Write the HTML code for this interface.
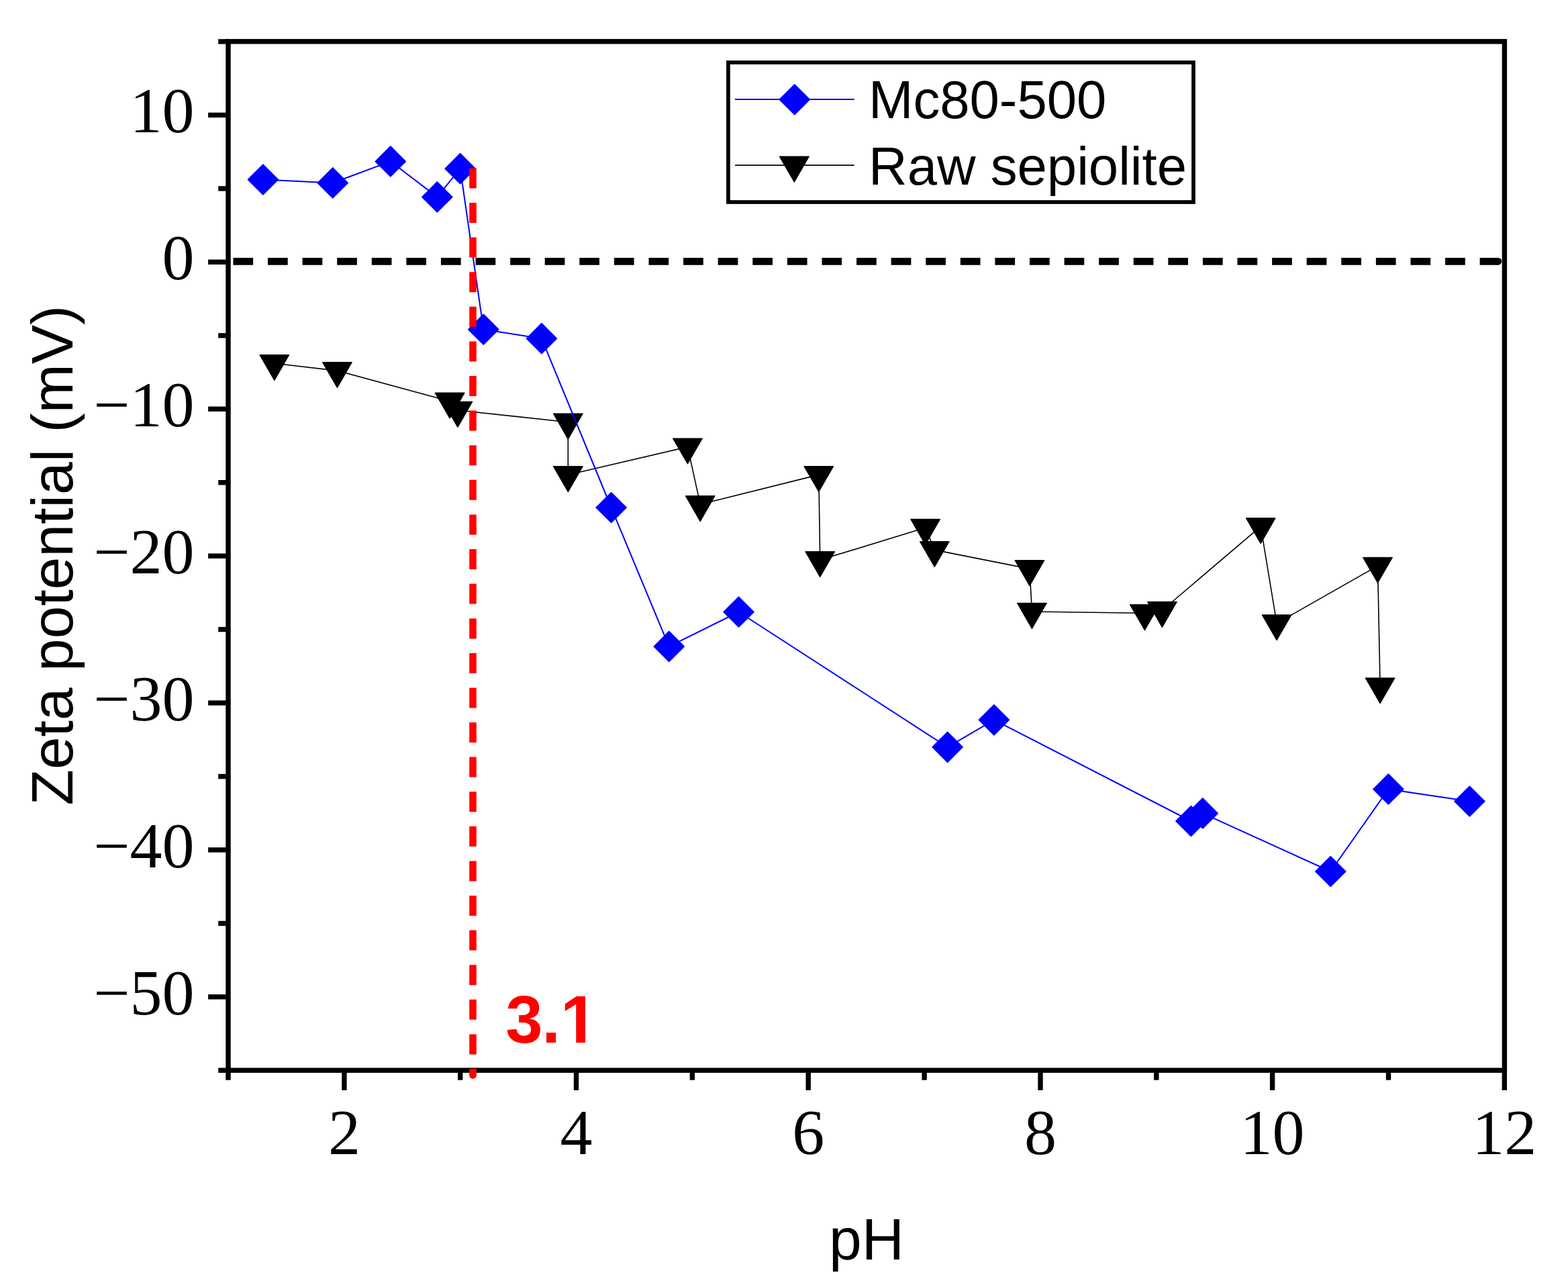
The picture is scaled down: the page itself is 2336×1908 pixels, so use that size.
<!DOCTYPE html><html><head><meta charset="utf-8"><title>Zeta potential vs pH</title><style>html,body{margin:0;padding:0;background:#fff;overflow:hidden}svg{display:block}</style></head><body>
<svg width="2336" height="1908" viewBox="0 0 2336 1908">
<rect width="2336" height="1908" fill="#fff"/>
<g stroke="#000" stroke-width="10.6" fill="none">
<line x1="347.4" y1="389.35" x2="2232" y2="389.35" stroke-dasharray="29.7 21.89"/>
</g><circle cx="2232" cy="389.35" r="5.3" fill="#000"/>
<polyline fill="none" stroke="#000" stroke-width="1.6" stroke-linejoin="round" points="408.8,541.2 502.4,552.1 670.1,597.8 681.9,611.0 846.3,628.7 846.3,707.3 1024.4,665.6 1043.2,751.2 1219.8,707.1 1221.7,834.1 1378.6,786.0 1392.3,819.1 1533.9,847.2 1537.4,911.0 1705.4,913.3 1731.4,909.0 1878.2,784.2 1902.1,928.4 2052.5,842.9 2056.1,1022.4"/>
<g fill="#000" stroke="#000" stroke-width="1.4" stroke-linejoin="round"><polygon points="387.1,528.7 430.5,528.7 408.8,566.3"/><polygon points="480.7,539.6 524.1,539.6 502.4,577.2"/><polygon points="648.4,585.3 691.8,585.3 670.1,622.9"/><polygon points="660.2,598.5 703.6,598.5 681.9,636.1"/><polygon points="824.6,616.2 868.0,616.2 846.3,653.8"/><polygon points="824.6,694.8 868.0,694.8 846.3,732.4"/><polygon points="1002.7,653.1 1046.1,653.1 1024.4,690.7"/><polygon points="1021.5,738.7 1064.9,738.7 1043.2,776.3"/><polygon points="1198.1,694.6 1241.5,694.6 1219.8,732.2"/><polygon points="1200.0,821.6 1243.4,821.6 1221.7,859.2"/><polygon points="1356.9,773.5 1400.3,773.5 1378.6,811.1"/><polygon points="1370.6,806.6 1414.0,806.6 1392.3,844.2"/><polygon points="1512.2,834.7 1555.6,834.7 1533.9,872.3"/><polygon points="1515.7,898.5 1559.1,898.5 1537.4,936.1"/><polygon points="1683.7,900.8 1727.1,900.8 1705.4,938.4"/><polygon points="1709.7,896.5 1753.1,896.5 1731.4,934.1"/><polygon points="1856.5,771.7 1899.9,771.7 1878.2,809.3"/><polygon points="1880.4,915.9 1923.8,915.9 1902.1,953.5"/><polygon points="2030.8,830.4 2074.2,830.4 2052.5,868.0"/><polygon points="2034.4,1009.9 2077.8,1009.9 2056.1,1047.5"/></g>
<polyline fill="none" stroke="#00f" stroke-width="2" stroke-linejoin="round" points="391.9,267.5 495.7,272.4 581.8,240.4 651.3,293.4 685.6,251.2 720.3,490.7 806.9,504.2 910.6,756.0 996.7,962.9 1100.5,911.5 1411.6,1112.8 1480.9,1072.3 1774.4,1223.0 1791.8,1211.4 1982.3,1298.0 2068.4,1175.4 2189.4,1193.5"/>
<g fill="#00f" stroke="#00f" stroke-width="1.4" stroke-linejoin="round"><polygon points="391.9,244.9 414.5,267.5 391.9,290.1 369.3,267.5"/><polygon points="495.7,249.8 518.3,272.4 495.7,295.0 473.1,272.4"/><polygon points="581.8,217.8 604.4,240.4 581.8,263.0 559.2,240.4"/><polygon points="651.3,270.8 673.9,293.4 651.3,316.0 628.7,293.4"/><polygon points="685.6,228.6 708.2,251.2 685.6,273.8 663.0,251.2"/><polygon points="720.3,468.1 742.9,490.7 720.3,513.3 697.7,490.7"/><polygon points="806.9,481.6 829.5,504.2 806.9,526.8 784.3,504.2"/><polygon points="910.6,733.4 933.2,756.0 910.6,778.6 888.0,756.0"/><polygon points="996.7,940.3 1019.3,962.9 996.7,985.5 974.1,962.9"/><polygon points="1100.5,888.9 1123.1,911.5 1100.5,934.1 1077.9,911.5"/><polygon points="1411.6,1090.2 1434.2,1112.8 1411.6,1135.4 1389.0,1112.8"/><polygon points="1480.9,1049.7 1503.5,1072.3 1480.9,1094.9 1458.3,1072.3"/><polygon points="1774.4,1200.4 1797.0,1223.0 1774.4,1245.6 1751.8,1223.0"/><polygon points="1791.8,1188.8 1814.4,1211.4 1791.8,1234.0 1769.2,1211.4"/><polygon points="1982.3,1275.4 2004.9,1298.0 1982.3,1320.6 1959.7,1298.0"/><polygon points="2068.4,1152.8 2091.0,1175.4 2068.4,1198.0 2045.8,1175.4"/><polygon points="2189.4,1170.9 2212.0,1193.5 2189.4,1216.1 2166.8,1193.5"/></g>
<g stroke="#000" stroke-width="7.4" fill="none" stroke-linecap="butt">
<rect x="340" y="61.8" width="1901.4" height="1532.4" stroke-linejoin="miter"/>
<line x1="310.1" y1="171.4" x2="340" y2="171.4"/>
<line x1="310.1" y1="390.3" x2="340" y2="390.3"/>
<line x1="310.1" y1="609.2" x2="340" y2="609.2"/>
<line x1="310.1" y1="828.1" x2="340" y2="828.1"/>
<line x1="310.1" y1="1047.0" x2="340" y2="1047.0"/>
<line x1="310.1" y1="1265.9" x2="340" y2="1265.9"/>
<line x1="310.1" y1="1484.8" x2="340" y2="1484.8"/>
<line x1="325.2" y1="61.9" x2="340" y2="61.9"/>
<line x1="325.2" y1="280.9" x2="340" y2="280.9"/>
<line x1="325.2" y1="499.8" x2="340" y2="499.8"/>
<line x1="325.2" y1="718.7" x2="340" y2="718.7"/>
<line x1="325.2" y1="937.5" x2="340" y2="937.5"/>
<line x1="325.2" y1="1156.5" x2="340" y2="1156.5"/>
<line x1="325.2" y1="1375.4" x2="340" y2="1375.4"/>
<line x1="325.2" y1="1594.2" x2="340" y2="1594.2"/>
<line x1="512.9" y1="1594.2" x2="512.9" y2="1623.8"/>
<line x1="858.5" y1="1594.2" x2="858.5" y2="1623.8"/>
<line x1="1204.2" y1="1594.2" x2="1204.2" y2="1623.8"/>
<line x1="1550.0" y1="1594.2" x2="1550.0" y2="1623.8"/>
<line x1="1895.6" y1="1594.2" x2="1895.6" y2="1623.8"/>
<line x1="2241.3" y1="1594.2" x2="2241.3" y2="1623.8"/>
<line x1="340.0" y1="1594.2" x2="340.0" y2="1608.7"/>
<line x1="685.7" y1="1594.2" x2="685.7" y2="1608.7"/>
<line x1="1031.4" y1="1594.2" x2="1031.4" y2="1608.7"/>
<line x1="1377.1" y1="1594.2" x2="1377.1" y2="1608.7"/>
<line x1="1722.8" y1="1594.2" x2="1722.8" y2="1608.7"/>
<line x1="2068.5" y1="1594.2" x2="2068.5" y2="1608.7"/>
</g>
<line x1="704.5" y1="250.4" x2="704.5" y2="1601.5" stroke="#f00" stroke-width="10.6" stroke-dasharray="30 21.6"/>
<circle cx="704.5" cy="1601.5" r="5.3" fill="#f00"/>
<g font-family="'Liberation Serif', 'Times New Roman', serif" font-size="96" fill="#000" text-anchor="end">
<text x="289.5" y="197.2">10</text>
<text x="289.5" y="416.1">0</text>
<text x="289.5" y="635.0">−10</text>
<text x="289.5" y="853.9">−20</text>
<text x="289.5" y="1072.8">−30</text>
<text x="289.5" y="1291.7">−40</text>
<text x="289.5" y="1510.6">−50</text>
</g>
<g font-family="'Liberation Serif', 'Times New Roman', serif" font-size="96" fill="#000" text-anchor="middle">
<text x="512.9" y="1718.9">2</text>
<text x="858.5" y="1718.9">4</text>
<text x="1204.2" y="1718.9">6</text>
<text x="1550.0" y="1718.9">8</text>
<text x="1895.6" y="1718.9">10</text>
<text x="2241.3" y="1718.9">12</text>
</g>
<g font-family="'Liberation Sans', Arial, sans-serif" font-size="87.6" fill="#000">
<text transform="translate(108.1,1199.6) rotate(-90)">Zeta potential (mV)</text>
<text x="1235.05" y="1875.8">pH</text>
</g>
<defs><clipPath id="c31"><rect x="0" y="0" width="2336" height="1541.4"/><rect x="0" y="0" width="838" height="1908"/><rect x="858.25" y="0" width="13.75" height="1908"/></clipPath></defs>
<text x="753.19 807.25 835.02" y="1552.8" clip-path="url(#c31)" font-family="'Liberation Sans', Arial, sans-serif" font-weight="bold" font-size="99.5" fill="#f00">3.1</text>
<rect x="1084.9" y="93" width="693.1" height="208" fill="#fff" stroke="#000" stroke-width="5.7"/>
<line x1="1095.7" y1="148.1" x2="1272" y2="148.1" stroke="#00f" stroke-width="2" stroke-linecap="round"/>
<g fill="#00f" stroke="#00f" stroke-width="1.4" stroke-linejoin="round"><polygon points="1183.8,125.7 1206.3,148.2 1183.8,170.8 1161.2,148.2"/></g>
<line x1="1095.7" y1="246.2" x2="1272" y2="246.2" stroke="#000" stroke-width="1.7" stroke-linecap="round"/>
<g fill="#000" stroke="#000" stroke-width="1.4" stroke-linejoin="round"><polygon points="1161.6,233.3 1205.0,233.3 1183.3,270.9"/></g>
<g font-family="'Liberation Sans', Arial, sans-serif" font-size="79.7" fill="#000">
<text x="1294.0" y="176">Mc80-500</text>
<text x="1294.1" y="274.8">Raw sepiolite</text>
</g>
</svg></body></html>
